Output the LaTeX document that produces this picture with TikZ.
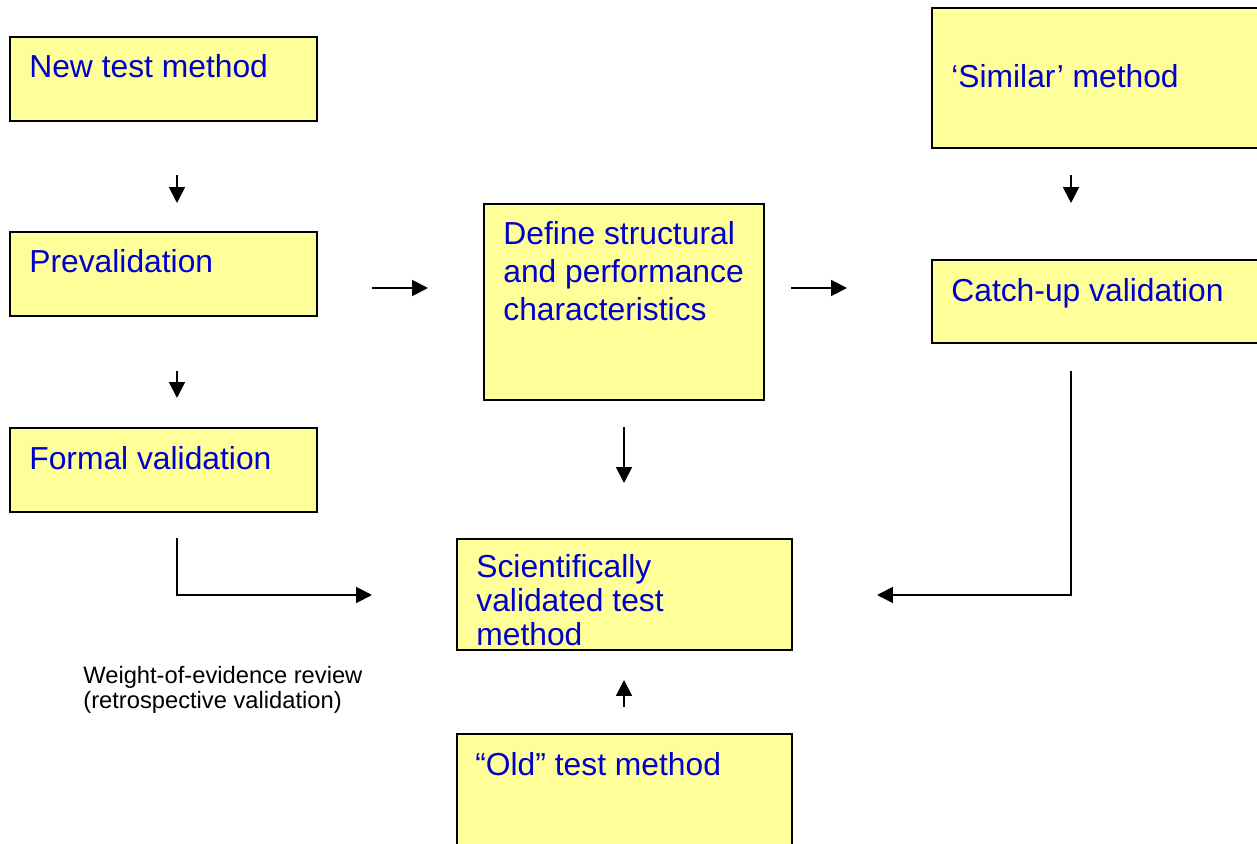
\documentclass[tikz,border=0pt]{standalone}
\usepackage{fontspec}
\setmainfont{Liberation Sans}
\usetikzlibrary{arrows.meta,fit}
\definecolor{boxyellow}{RGB}{255,255,153}
\definecolor{textblue}{RGB}{0,0,204}
\begin{document}
\begin{tikzpicture}[x=0.02cm,y=-0.02cm,
    box/.style={draw=black,line width=1.2pt,fill=boxyellow,inner sep=0pt},
    lbl/.style={anchor=base west,inner sep=0pt,align=left,text=textblue,font=\fontsize{18.1}{21.6}\selectfont},
    arr/.style={line width=1.1pt,-{Triangle[length=9pt,width=9pt]}}]
    \useasboundingbox (0,0) rectangle (1257,844);
    \clip (0,0) rectangle (1257,844);
    % the boxes, given by their corners (picture is in pixels, y downwards)
    \node[box,fit={(10,37) (317,121)}]    (new)     {};
    \node[box,fit={(10,232) (317,316)}]   (prev)    {};
    \node[box,fit={(10,428) (317,512)}]   (formal)  {};
    \node[box,fit={(484,204) (764,400)}]  (define)  {};
    \node[box,fit={(932,8) (1275,148)}]   (similar) {};
    \node[box,fit={(932,260) (1275,343)}] (catchup) {};
    \node[box,fit={(457,539) (792,650)}]  (sci)     {};
    \node[box,fit={(457,734) (792,870)}]  (old)     {};
    % texts, placed at the baseline of their last line
    \node[lbl] (newtxt)     at (29,78)   {New test method};
    \node[lbl] (prevtxt)    at (29,273)  {Prevalidation};
    \node[lbl] (formaltxt)  at (29,469)  {Formal validation};
    \node[lbl] (definetxt)  at (503,320) {Define structural\\and performance\\characteristics};
    \node[lbl] (similartxt) at (951,88)  {‘Similar’ method};
    \node[lbl] (catchuptxt) at (951,302) {Catch-up validation};
    \node[lbl,font=\fontsize{18.1}{19.3}\selectfont] (scitxt) at (476,645) {Scientifically\\validated test\\method};
    \node[lbl] (oldtxt)     at (475,775) {“Old” test method};
    \node[lbl,text=black,font=\fontsize{13.5}{14.2}\selectfont] (weight) at (83,708)
      {Weight-of-evidence review\\(retrospective validation)};
    % arrow ends
    \foreach \na/\xx/\yy in {a1/177/175,a2/177/203,b1/177/371,b2/177/398,c1/177/538,c2/372/595,
        d1/372/288,d2/428/288,e1/791/288,e2/847/288,f1/1071/175,f2/1071/203,
        g1/624/427,g2/624/483,h1/1071/371,h2/877/595,k1/624/707,k2/624/680}{
      \coordinate (\na) at (\xx,\yy);};
    \draw[arr] (a1) -- (a2);
    \draw[arr] (b1) -- (b2);
    \draw[arr] (c1) |- (c2);
    \draw[arr] (d1) -- (d2);
    \draw[arr] (e1) -- (e2);
    \draw[arr] (f1) -- (f2);
    \draw[arr] (g1) -- (g2);
    \draw[arr] (h1) |- (h2);
    \draw[arr] (k1) -- (k2);
\end{tikzpicture}
\end{document}
